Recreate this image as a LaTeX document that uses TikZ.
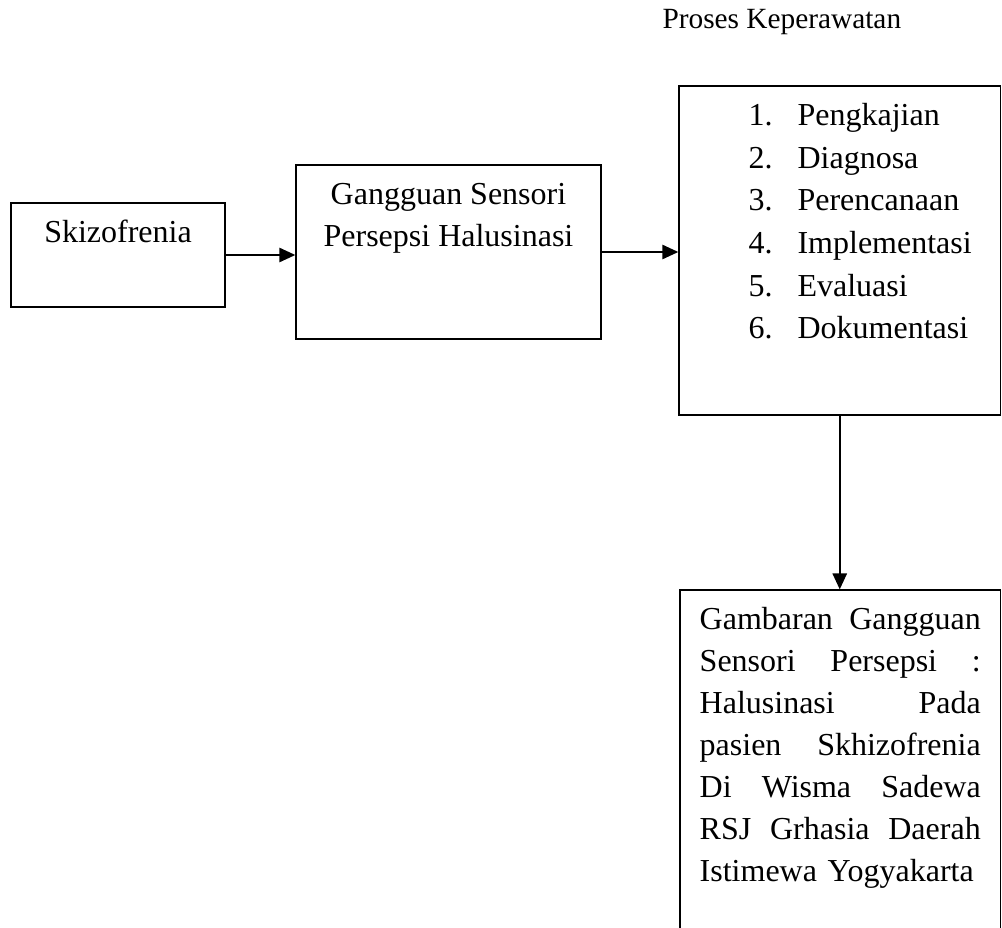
\documentclass[tikz,border=0pt]{standalone}
\usepackage{fontspec}
\setmainfont{Liberation Serif}
\usetikzlibrary{arrows.meta, positioning}

\begin{document}
\begin{tikzpicture}[
  x=0.375pt, y=-0.375pt,
  box/.style={rectangle, draw=black, line width=0.5pt, inner sep=0pt},
  txt/.style={inner sep=0pt, font=\fontsize{12}{15.7}\selectfont, align=center},
  arr/.style={-{Triangle[length=6pt, width=5.4pt]}, line width=0.6pt}
]
\path[use as bounding box, clip] (0,0) rectangle (1002,928);

\node[inner sep=0pt, anchor=base west, font=\fontsize{11}{13}\selectfont] (title) at (662,28) {Proses Keperawatan};

\node[box, minimum width=80.25pt, minimum height=39pt] (skz) at (118,255) {};
\node[box, minimum width=114.4pt, minimum height=65.25pt] (gsp) at (448.5,252) {};
\node[box, minimum width=120.6pt, minimum height=123.4pt] (proses) at (839.75,250.5) {};
\node[box, minimum width=120.2pt, minimum height=133.1pt] (hasil) at (840.25,767.5) {};

\node[txt, below=4pt of skz.north] (skztxt) {\strut Skizofrenia};
\node[txt, below=4pt of gsp.north] (gsptxt) {\strut Gangguan Sensori\\Persepsi Halusinasi};
\node[txt, anchor=north west, align=left, font=\fontsize{12}{16}\selectfont] (prosestxt) at (748,95)
  {\strut\makebox[18.4pt][l]{1.}Pengkajian\\
   \makebox[18.4pt][l]{2.}Diagnosa\\
   \makebox[18.4pt][l]{3.}Perencanaan\\
   \makebox[18.4pt][l]{4.}Implementasi\\
   \makebox[18.4pt][l]{5.}Evaluasi\\
   \makebox[18.4pt][l]{6.}Dokumentasi};
\node[txt, below=4pt of hasil.north, text width=105.4pt, align=left] (hasiltxt)
  {\strut Gambaran\hfill Gangguan\\
   Sensori\hfill Persepsi\hfill :\\
   Halusinasi\hfill Pada\\
   pasien\hfill Skhizofrenia\\
   Di\hfill Wisma\hfill Sadewa\\
   RSJ\hfill Grhasia\hfill Daerah\\
   Istimewa Yogyakarta};

\draw[arr] (skz.east) -- (skz.east -| gsp.west);
\draw[arr] (gsp.east) -- (gsp.east -| proses.west);
\draw[arr] (proses.south) -- (proses.south |- hasil.north);

\end{tikzpicture}
\end{document}
